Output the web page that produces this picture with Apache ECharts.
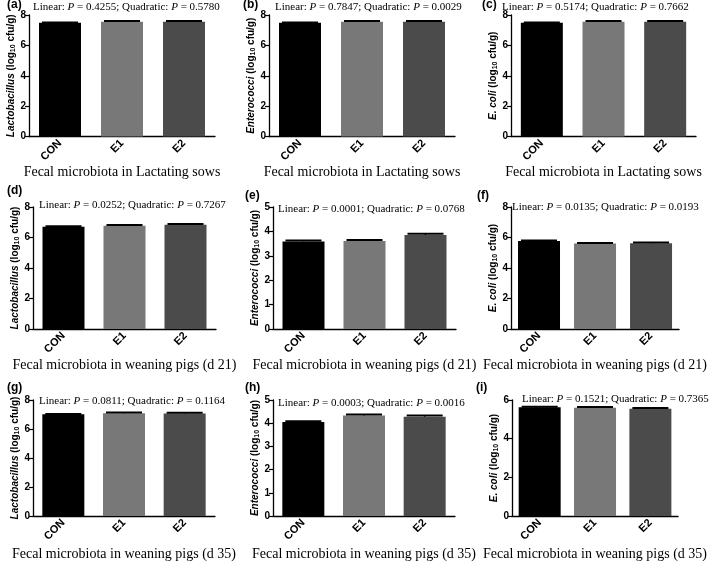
<!DOCTYPE html>
<html><head><meta charset="utf-8">
<script src="https://cdn.jsdelivr.net/npm/echarts@6/dist/echarts.min.js"></script>
<style>html,body{margin:0;padding:0;background:#fff}#c{width:709px;height:562px}</style>
</head><body><div id="c"></div>
<script>
// ---- data ----
const categories = ['CON', 'E1', 'E2'];
const lactobacillusSows = [7.49, 7.55, 7.55];
const lactobacillusSowsErr = [0.02, 0.05, 0.05];
const enterococciSows = [7.49, 7.55, 7.55];
const enterococciSowsErr = [0.02, 0.05, 0.05];
const ecoliSows = [7.49, 7.55, 7.55];
const ecoliSowsErr = [0.02, 0.05, 0.05];
const lactobacillusD21 = [6.70, 6.77, 6.84];
const lactobacillusD21Err = [0.03, 0.05, 0.04];
const enterococciD21 = [3.59, 3.61, 3.85];
const enterococciD21Err = [0.04, 0.04, 0.05];
const ecoliD21 = [5.77, 5.60, 5.63];
const ecoliD21Err = [0.03, 0.04, 0.04];
const lactobacillusD35 = [7.01, 7.09, 7.07];
const lactobacillusD35Err = [0.03, 0.05, 0.05];
const enterococciD35 = [4.05, 4.33, 4.28];
const enterococciD35Err = [0.03, 0.05, 0.05];
const ecoliD35 = [5.63, 5.60, 5.55];
const ecoliD35Err = [0.02, 0.04, 0.04];

const panelLetters = ['(a)', '(b)', '(c)', '(d)', '(e)', '(f)', '(g)', '(h)', '(i)'];
const linearP = ['0.4255', '0.7847', '0.5174', '0.0252', '0.0001', '0.0135', '0.0811', '0.0003', '0.1521'];
const quadraticP = ['0.5780', '0.0029', '0.7662', '0.7267', '0.0768', '0.0193', '0.1164', '0.0016', '0.7365'];
const speciesNames = ['Lactobacillus', 'Enterococci', 'E. coli'];
const xTitles = ['Fecal microbiota in Lactating sows', 'Fecal microbiota in weaning pigs (d 21)', 'Fecal microbiota in weaning pigs (d 35)'];
const yMax = [8, 8, 8, 8, 5, 8, 8, 5, 6];
const yInterval = [2, 2, 2, 2, 1, 2, 2, 1, 2];

const panelValues = [lactobacillusSows, enterococciSows, ecoliSows, lactobacillusD21, enterococciD21, ecoliD21, lactobacillusD35, enterococciD35, ecoliD35];
const panelErrors = [lactobacillusSowsErr, enterococciSowsErr, ecoliSowsErr, lactobacillusD21Err, enterococciD21Err, ecoliD21Err, lactobacillusD35Err, enterococciD35Err, ecoliD35Err];

// ---- layout ----
const gridBoxes = [
  [29, 15, 186, 121.5], [269, 15, 186, 121.5], [511, 15, 185, 121.5],
  [33, 207, 183, 122], [273, 207, 183, 122], [511, 207, 184, 122],
  [33, 400, 182, 122], [273, 400, 182, 122], [512, 400, 184, 121]
];
const letterPos = [[7, -2], [243, -2], [482, -2], [7, 184], [245, 189], [477, 189], [7, 381], [245, 381], [476, 381]];
const pTextPos = [[33, 1], [275, 1], [502, 1], [39, 199], [278, 203], [512, 201], [39, 395], [278, 397], [522, 393]];
const xNameGap = [28, 29, 31];
const barColors = ['#000000', '#787878', '#4b4b4b'];

const sans = 'Liberation Sans, Arial, sans-serif';
const serif = 'Liberation Serif, Times New Roman, serif';

const option = { animation: false, backgroundColor: '#fff', title: [], grid: [], xAxis: [], yAxis: [], series: [] };

for (let k = 0; k < 9; k++) {
  const [l, t, w, h] = gridBoxes[k];
  const row = Math.floor(k / 3), col = k % 3;
  option.grid.push({ left: l, top: t, width: w, height: h, containLabel: false });
  option.title.push({
    text: panelLetters[k], left: letterPos[k][0], top: letterPos[k][1], padding: 0,
    textStyle: { fontFamily: sans, fontSize: 12, fontWeight: 'bold', color: '#000', lineHeight: 14 }
  });
  option.title.push({
    text: `Linear: {i|P} = ${linearP[k]}; Quadratic: {i|P} = ${quadraticP[k]}`,
    left: pTextPos[k][0], top: pTextPos[k][1], padding: 0,
    textStyle: {
      fontFamily: serif, fontSize: 11, fontWeight: 'normal', color: '#000', lineHeight: 12,
      rich: { i: { fontFamily: serif, fontSize: 11, fontStyle: 'italic', color: '#000' } }
    }
  });
  option.xAxis.push({
    type: 'category', gridIndex: k, data: categories,
    name: xTitles[row], nameLocation: 'middle', nameGap: xNameGap[row],
    nameTextStyle: { fontFamily: serif, fontSize: 14, color: '#000' },
    axisLine: { lineStyle: { color: '#000', width: 1.3 } },
    axisTick: { alignWithLabel: true, length: 3, lineStyle: { color: '#000', width: 1.2 } },
    axisLabel: { rotate: 45, margin: 5, fontFamily: sans, fontSize: 11, fontWeight: 'bold', color: '#000' },
    splitLine: { show: false }
  });
  option.yAxis.push({
    type: 'value', gridIndex: k, min: 0, max: yMax[k], interval: yInterval[k],
    name: `{i|${speciesNames[col]}} {n|(log}{s|10}{n| cfu/g)}`,
    nameLocation: 'middle', nameGap: 12,
    nameTextStyle: {
      fontFamily: sans, fontSize: 10, fontWeight: 'bold', color: '#000',
      rich: {
        i: { fontFamily: sans, fontSize: 10, fontWeight: 'bold', fontStyle: 'italic', color: '#000' },
        n: { fontFamily: sans, fontSize: 10, fontWeight: 'bold', color: '#000' },
        s: { fontFamily: sans, fontSize: 7, fontWeight: 'bold', color: '#000', verticalAlign: 'bottom', padding: [4, 0, 0, 0] }
      }
    },
    axisLine: { show: true, lineStyle: { color: '#000', width: 1.3 } },
    axisTick: { show: true, length: 4, lineStyle: { color: '#000', width: 1.2 } },
    axisLabel: { margin: 3, fontFamily: sans, fontSize: 10, fontWeight: 'bold', color: '#000' },
    splitLine: { show: false }
  });
  const vals = panelValues[k], errs = panelErrors[k];
  option.series.push({
    type: 'bar', xAxisIndex: k, yAxisIndex: k, barWidth: 42,
    data: vals.map((v, j) => ({ value: v, itemStyle: { color: barColors[j] } })),
    z: 2
  });
  option.series.push({
    type: 'custom', xAxisIndex: k, yAxisIndex: k, z: 3,
    data: vals.map((v, j) => [j, v, errs[j]]),
    encode: { x: 0, y: 1 },
    renderItem: (params, api) => {
      const x = api.value(0), v = api.value(1), e = api.value(2);
      const p0 = api.coord([x, v]);
      const p1 = api.coord([x, v + e]);
      return {
        type: 'group', children: [
          { type: 'line', shape: { x1: p0[0], y1: p0[1], x2: p1[0], y2: p1[1] }, style: { stroke: '#000', lineWidth: 1.5 } },
          { type: 'line', shape: { x1: p1[0] - 18, y1: p1[1], x2: p1[0] + 18, y2: p1[1] }, style: { stroke: '#000', lineWidth: 2 } }
        ]
      };
    }
  });
}

const chart = echarts.init(document.getElementById('c'), null, { renderer: 'canvas' });
chart.setOption(option);
</script>
</body></html>
